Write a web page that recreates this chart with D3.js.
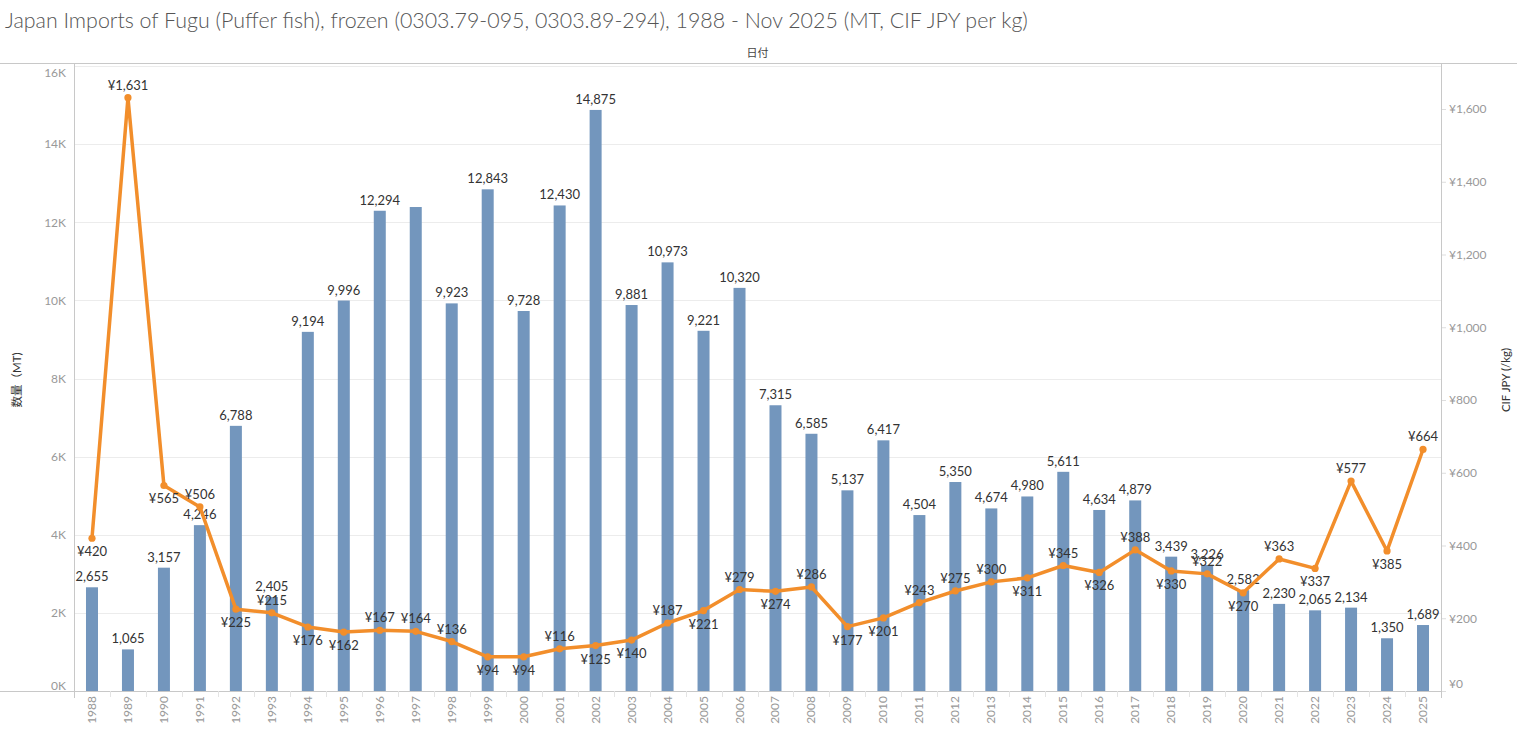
<!DOCTYPE html>
<html>
<head>
<meta charset="utf-8">
<script src="https://cdn.jsdelivr.net/npm/d3@7"></script>
<style>
  body { margin: 0; background: #fff; }
  svg { display: block; font-family: Lato, "Noto Sans CJK JP", sans-serif; }
</style>
</head>
<body>
<div id="chart"></div>
<script>
const years = d3.range(1988, 2026).map(String);

const volumeMT = [2655, 1065, 3157, 4246, 6788, 2405, 9194, 9996, 12294, 12390,
    9923, 12843, 9728, 12430, 14875, 9881, 10973, 9221, 10320, 7315,
    6585, 5137, 6417, 4504, 5350, 4674, 4980, 5611, 4634, 4879,
    3439, 3226, 2582, 2230, 2065, 2134, 1350, 1689];

// 1997 has no value label in the original
const volumeLabelShown = years.map(y => y !== "1997");

const priceJPY = [420, 1631, 565, 506, 225, 215, 176, 162, 167, 164,
    136, 94, 94, 116, 125, 140, 187, 221, 279, 274,
    286, 177, 201, 243, 275, 300, 311, 345, 326, 388,
    330, 322, 270, 363, 337, 577, 385, 664];

// where each price label sits relative to its point
const priceLabelSide = ["b", "a", "b", "a", "b", "a", "b", "b", "a", "a",
    "a", "b", "b", "a", "b", "b", "a", "b", "a", "b",
    "a", "b", "b", "a", "a", "a", "b", "a", "b", "a",
    "b", "a", "b", "a", "b", "a", "b", "a"];

const leftTicks = [0, 2000, 4000, 6000, 8000, 10000, 12000, 14000, 16000];
const rightTicks = [0, 200, 400, 600, 800, 1000, 1200, 1400, 1600];

const width = 1517, height = 732;
const plot = { left: 74, right: 1441, top: 66, bottom: 691 };

const svg = d3.select("#chart").append("svg")
    .attr("width", width)
    .attr("height", height);

const x = d3.scaleBand().domain(years).range([plot.left, plot.right]);
const yLeft = d3.scaleLinear().domain([0, 16000]).range([plot.bottom, plot.top]);
const yRight = d3.scaleLinear().domain([0, 1600]).range([plot.bottom, 109]);

// title + header
svg.append("text")
    .attr("x", 5).attr("y", 28)
    .attr("font-size", 21.4)
    .attr("font-weight", 300)
    .attr("fill", "#555")
    .text("Japan Imports of Fugu (Puffer fish), frozen (0303.79-095, 0303.89-294), 1988 - Nov 2025 (MT, CIF JPY per kg)");

svg.append("text")
    .attr("x", (plot.left + plot.right) / 2).attr("y", 57)
    .attr("text-anchor", "middle")
    .attr("font-size", 11)
    .attr("fill", "#444")
    .text("日付");

svg.append("line")
    .attr("x1", 0).attr("x2", width)
    .attr("y1", 63.5).attr("y2", 63.5)
    .attr("stroke", "#c8c8c8");

// gridlines
svg.append("g")
    .selectAll("line")
    .data(leftTicks)
    .join("line")
    .attr("x1", plot.left).attr("x2", plot.right)
    .attr("y1", d => Math.round(yLeft(d)) + 0.5)
    .attr("y2", d => Math.round(yLeft(d)) + 0.5)
    .attr("stroke", "#ececec");

// left axis
const leftAxis = svg.append("g")
    .attr("transform", `translate(${plot.left},0)`)
    .call(d3.axisLeft(yLeft).tickValues(leftTicks).tickSize(0).tickPadding(8)
        .tickFormat(d => (d / 1000) + "K"));
leftAxis.select(".domain").remove();
leftAxis.selectAll("text")
    .attr("font-family", "Lato, sans-serif")
    .attr("font-size", 12)
    .attr("fill", "#999")
    .attr("dy", d => d === 0 ? "-0.1em" : d === 16000 ? "0.9em" : "0.32em");

// right axis
const rightAxis = svg.append("g")
    .attr("transform", `translate(${plot.right},0)`)
    .call(d3.axisRight(yRight).tickValues(rightTicks).tickSize(5).tickPadding(3)
        .tickFormat(d => "¥" + d3.format(",")(d)));
rightAxis.select(".domain").remove();
rightAxis.selectAll("line").attr("stroke", "#ddd");
rightAxis.selectAll("text")
    .attr("font-family", "Lato, sans-serif")
    .attr("font-size", 12)
    .attr("fill", "#999")
    .attr("dy", d => d === 0 ? "-0.3em" : "0.32em");

// axis frame lines
svg.append("line")
    .attr("x1", plot.left + 0.5).attr("x2", plot.left + 0.5)
    .attr("y1", 63).attr("y2", 698)
    .attr("stroke", "#c8c8c8");
svg.append("line")
    .attr("x1", plot.right + 0.5).attr("x2", plot.right + 0.5)
    .attr("y1", 63).attr("y2", 698)
    .attr("stroke", "#c8c8c8");
svg.append("line")
    .attr("x1", 0).attr("x2", plot.right)
    .attr("y1", plot.bottom + 0.5).attr("y2", plot.bottom + 0.5)
    .attr("stroke", "#c8c8c8");

// category separators under the axis
svg.append("g")
    .selectAll("line")
    .data(years.slice(1))
    .join("line")
    .attr("x1", d => Math.round(x(d)) + 0.5)
    .attr("x2", d => Math.round(x(d)) + 0.5)
    .attr("y1", plot.bottom).attr("y2", 697)
    .attr("stroke", "#e4e4e4");

// year labels
svg.append("g")
    .selectAll("text")
    .data(years)
    .join("text")
    .attr("transform", d => `translate(${x(d) + x.bandwidth() / 2 + 4},${plot.bottom + 5}) rotate(-90)`)
    .attr("text-anchor", "end")
    .attr("font-size", 12)
    .attr("fill", "#999")
    .text(d => d);

// axis titles
svg.append("text")
    .attr("transform", "translate(21,380) rotate(-90)")
    .attr("text-anchor", "middle")
    .attr("font-size", 11.5)
    .attr("fill", "#333")
    .text("数量（MT)");
svg.append("text")
    .attr("transform", "translate(1510,380) rotate(-90)")
    .attr("text-anchor", "middle")
    .attr("font-size", 11.5)
    .attr("fill", "#333")
    .text("CIF JPY (/kg)");

// bars
const barW = 12;
svg.append("g")
    .selectAll("rect")
    .data(years)
    .join("rect")
    .attr("x", d => x(d) + x.bandwidth() / 2 - barW / 2)
    .attr("y", (d, i) => yLeft(volumeMT[i]))
    .attr("width", barW)
    .attr("height", (d, i) => plot.bottom - yLeft(volumeMT[i]))
    .attr("fill", "#7396bd");

svg.append("g")
    .selectAll("text")
    .data(years.filter((d, i) => volumeLabelShown[i]))
    .join("text")
    .attr("x", d => x(d) + x.bandwidth() / 2)
    .attr("y", d => yLeft(volumeMT[years.indexOf(d)]) - 6)
    .attr("text-anchor", "middle")
    .attr("font-size", 13)
    .attr("fill", "#333")
    .text(d => d3.format(",")(volumeMT[years.indexOf(d)]));

// price line
const cx = d => x(d) + x.bandwidth() / 2;
const line = d3.line()
    .x(d => cx(d))
    .y((d, i) => yRight(priceJPY[i]));

svg.append("path")
    .datum(years)
    .attr("d", line)
    .attr("fill", "none")
    .attr("stroke", "#f28e2b")
    .attr("stroke-width", 3.5)
    .attr("stroke-linejoin", "round");

svg.append("g")
    .selectAll("circle")
    .data(years)
    .join("circle")
    .attr("cx", d => cx(d))
    .attr("cy", (d, i) => yRight(priceJPY[i]))
    .attr("r", 3.6)
    .attr("fill", "#f28e2b");

svg.append("g")
    .selectAll("text")
    .data(years)
    .join("text")
    .attr("x", d => cx(d))
    .attr("y", (d, i) => yRight(priceJPY[i]) + (priceLabelSide[i] === "a" ? -8 : 18))
    .attr("text-anchor", "middle")
    .attr("font-size", 13)
    .attr("fill", "#333")
    .text((d, i) => "¥" + d3.format(",")(priceJPY[i]));
</script>
</body>
</html>
